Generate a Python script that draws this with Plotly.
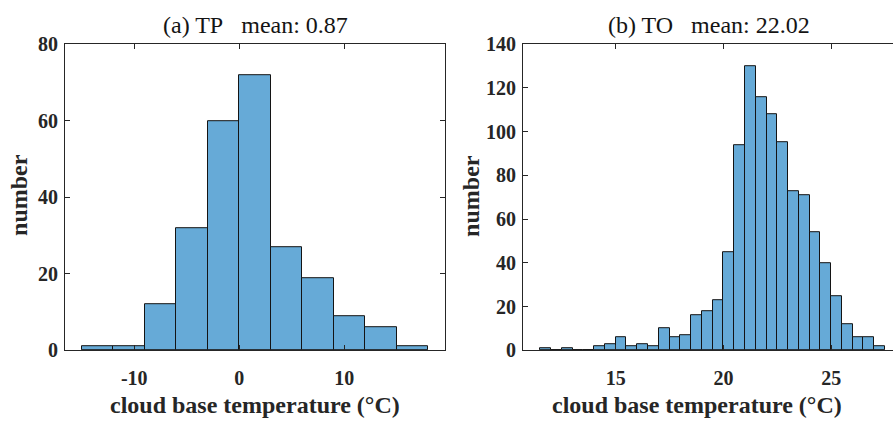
import plotly.graph_objects as go

# (a) TP histogram: bin edges and counts
tp_edges = [-15, -12, -9, -6, -3, 0, 3, 6, 9, 12, 15, 18]
tp_counts = [1, 1, 12, 32, 60, 72, 27, 19, 9, 6, 1]

# (b) TO histogram: bin edges and counts
to_edges = [11.5, 12, 12.5, 13, 13.5, 14, 14.5, 15, 15.5, 16, 16.5, 17, 17.5,
            18, 18.5, 19, 19.5, 20, 20.5, 21, 21.5, 22, 22.5, 23, 23.5, 24,
            24.5, 25, 25.5, 26, 26.5, 27, 27.5]
to_counts = [1, 0, 1, 0, 0, 2, 3, 6, 2, 3, 2, 10, 6, 7, 16, 18, 23, 45, 94,
             130, 116, 108, 95, 73, 71, 54, 40, 25, 12, 6, 6, 2]

tp_title = "(a) TP\u00a0\u00a0\u00a0mean: 0.87"
to_title = "(b) TO\u00a0\u00a0\u00a0mean: 22.02"
x_label = "cloud base temperature (°C)"
y_label = "number"

tp_xticks = [-10, 0, 10]
tp_xtext = ["-10", "0", "10"]
tp_yticks = [0, 20, 40, 60, 80]
to_xticks = [15, 20, 25]
to_yticks = [0, 20, 40, 60, 80, 100, 120, 140]

W, H = 893, 425
FACE = "rgb(102,170,215)"
EDGE = "rgb(20,20,20)"
AX = "rgb(38,38,38)"
FONT = "Liberation Serif, Times New Roman, serif"


def centers(edges):
    return [(a + b) / 2 for a, b in zip(edges[:-1], edges[1:])]


def widths(edges):
    return [b - a for a, b in zip(edges[:-1], edges[1:])]


fig = go.Figure()
fig.add_trace(go.Bar(x=centers(tp_edges), y=tp_counts, width=widths(tp_edges),
                     marker=dict(color=FACE, line=dict(color=EDGE, width=1)),
                     xaxis="x", yaxis="y", showlegend=False))
fig.add_trace(go.Bar(x=centers(to_edges), y=to_counts, width=widths(to_edges),
                     marker=dict(color=FACE, line=dict(color=EDGE, width=1)),
                     xaxis="x2", yaxis="y2", showlegend=False))

# pixel geometry
top, bottom = 35, 358
L1, R1 = 65, 445
L2 = 523
ydom = [(H - bottom) / H, (H - top) / H]

axis_common = dict(showline=True, linecolor=AX, linewidth=1, ticks="inside",
                   ticklen=5, tickcolor=AX, tickwidth=1, showgrid=False,
                   zeroline=False,
                   tickfont=dict(family=FONT, size=20, color=AX, weight="bold"))

fig.update_layout(
    width=W, height=H,
    margin=dict(l=0, r=0, t=0, b=0),
    paper_bgcolor="white", plot_bgcolor="white",
    bargap=0,
    xaxis=dict(domain=[L1 / W, R1 / W], range=[-16.6, 19.6], tickvals=tp_xticks,
               ticktext=tp_xtext, mirror="ticks", anchor="y",
               ticklabelstandoff=10, **axis_common),
    yaxis=dict(domain=ydom, range=[0, 80], tickvals=tp_yticks, mirror="ticks",
               anchor="x", ticklabelstandoff=2, **axis_common),
    xaxis2=dict(domain=[L2 / W, 1.0], range=[10.70, 27.87], tickvals=to_xticks,
                mirror="ticks", anchor="y2", ticklabelstandoff=10, **axis_common),
    yaxis2=dict(domain=ydom, range=[0, 140], tickvals=to_yticks, mirror=False,
                anchor="x2", ticklabelstandoff=2, **axis_common),
)

ann_font_b = dict(family=FONT, size=24, color=AX, weight="bold")
ann_font_t = dict(family=FONT, size=24, color="rgb(20,20,20)")


def px(x, y):
    return dict(x=x / W, y=1 - y / H, xref="paper", yref="paper", showarrow=False)


fig.add_annotation(text=tp_title, font=ann_font_t, xanchor="center", yanchor="middle", **px(255, 15))
fig.add_annotation(text=to_title, font=ann_font_t, xanchor="center", yanchor="middle", **px(709, 15))
fig.add_annotation(text=x_label, font=ann_font_b, xanchor="center", yanchor="middle", **px(255, 415))
fig.add_annotation(text=x_label, font=ann_font_b, xanchor="center", yanchor="middle", **px(697, 415))
fig.add_annotation(text=y_label, font=ann_font_b, textangle=-90, xanchor="center", yanchor="middle", **px(19, 194))
fig.add_annotation(text=y_label, font=ann_font_b, textangle=-90, xanchor="center", yanchor="middle", **px(471, 195))

fig.write_html("out.html")
